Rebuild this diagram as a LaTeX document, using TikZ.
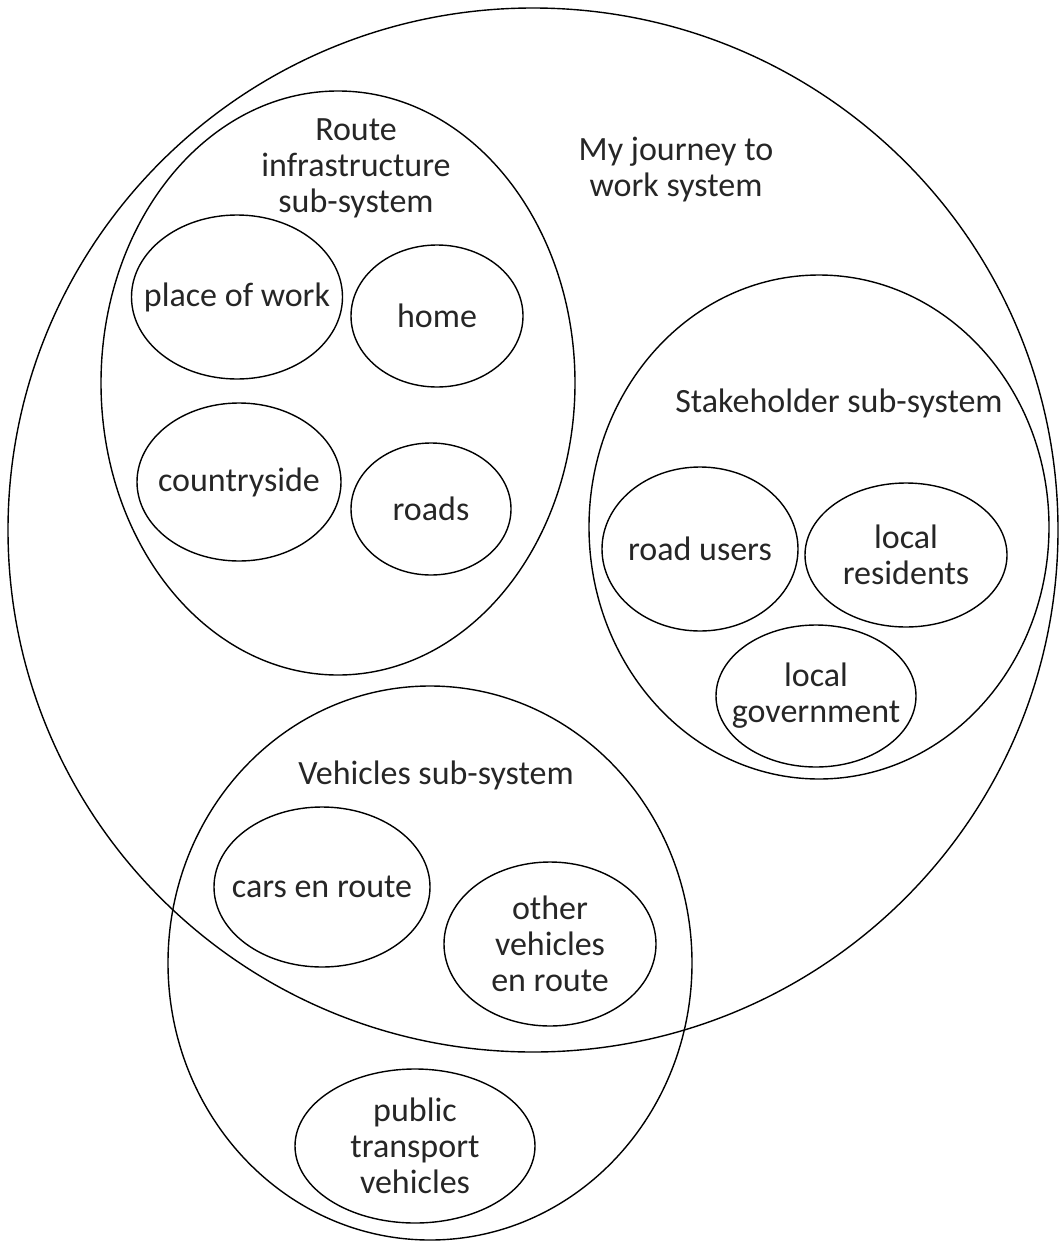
\documentclass[tikz,border=0pt]{standalone}
\usepackage{fontspec}
\setmainfont{Carlito}
\usetikzlibrary{shapes.geometric}
\begin{document}
\begin{tikzpicture}[x=1pt,y=-1pt,
  every node/.style={font=\fontsize{34}{36}\selectfont, align=center, text=black!85},
  blob/.style={ellipse, draw, line width=1.4pt, inner sep=0pt, outer sep=0pt},
  inside/.style={label={[inner sep=0pt]center:#1}},
  caption/.style={inner sep=0pt}]
\useasboundingbox (0,0) rectangle (1061,1242);

% whole system and its three sub-systems
\node[blob, minimum width=1050, minimum height=1044] (sys) at (533,530) {};
\node[blob, minimum width=474, minimum height=584] (route) at (338,383) {};
\node[blob, minimum width=460, minimum height=504] (stake) at (819,527) {};
\node[blob, minimum width=524, minimum height=554] (veh) at (430,963) {};

% captions
\node[caption] (syslbl) at (676,170) {My journey to\\work system};
\node[caption] (routelbl) at (356,168) {Route\\infrastructure\\sub-system};
\node[caption] (stakelbl) at (839,403) {Stakeholder sub-system};
\node[caption] (vehlbl) at (436,775) {Vehicles sub-system};

% route infrastructure elements
\node[blob, minimum width=211, minimum height=164, inside={place of work}] (work) at (237,297) {};
\node[blob, minimum width=172, minimum height=142, inside={home}] (home) at (437,316) {};
\node[blob, minimum width=204, minimum height=158, inside={countryside}] (country) at (239,482) {};
\node[blob, minimum width=160, minimum height=132, inside={roads}] (roads) at (431,509) {};

% stakeholders
\node[blob, minimum width=196, minimum height=164, inside={road users}] (users) at (700,549) {};
\node[blob, minimum width=202, minimum height=144, inside={local\\residents}] (residents) at (906,555) {};
\node[blob, minimum width=200, minimum height=142, inside={local\\government}] (gov) at (816,696) {};

% vehicles
\node[blob, minimum width=216, minimum height=160, inside={cars en route}] (cars) at (322,887) {};
\node[blob, minimum width=212, minimum height=164, inside={other\\vehicles\\en route}] (other) at (550,944) {};
\node[blob, minimum width=240, minimum height=154, inside={public\\transport\\vehicles}] (public) at (415,1146) {};
\end{tikzpicture}
\end{document}
